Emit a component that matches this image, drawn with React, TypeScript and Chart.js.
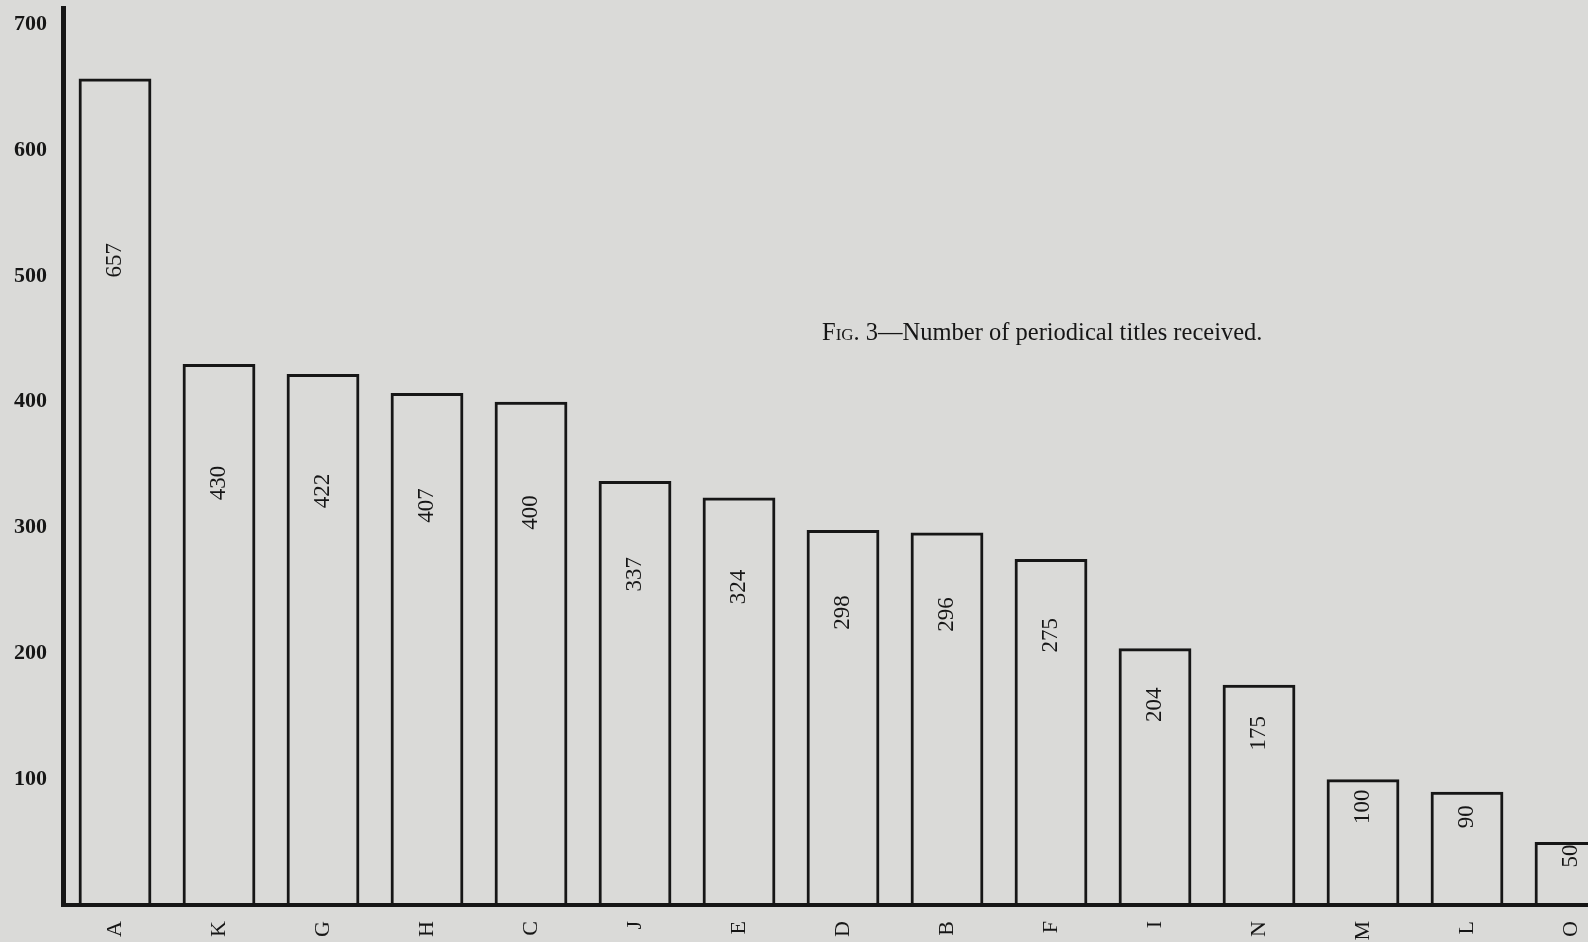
import React, { useEffect, useRef } from "react";
import { Chart, registerables } from "chart.js";

Chart.register(...registerables);

const libraries = ["A", "K", "G", "H", "C", "J", "E", "D", "B", "F", "I", "N", "M", "L", "O"];
const titles = [657, 430, 422, 407, 400, 337, 324, 298, 296, 275, 204, 175, 100, 90, 50];
const yTicks = [100, 200, 300, 400, 500, 600, 700];

const INK = "#161616";
const PAPER = "#dadad8";
const SERIF = '"Liberation Serif", "DejaVu Serif", serif';

// numbers written sideways inside each bar
const barValues = {
  id: "barValues",
  afterDatasetsDraw(chart: Chart) {
    const ctx = chart.ctx;
    const meta = chart.getDatasetMeta(0);
    const y = chart.scales.y;
    ctx.save();
    ctx.fillStyle = INK;
    ctx.font = `23px ${SERIF}`;
    ctx.textAlign = "center";
    ctx.textBaseline = "middle";
    meta.data.forEach((bar, i) => {
      const v = titles[i];
      ctx.save();
      ctx.translate(bar.x, y.getPixelForValue(v * 0.78));
      ctx.rotate(-Math.PI / 2);
      ctx.fillText(String(v), 0, 0);
      ctx.restore();
    });
    ctx.restore();
  },
};

function PeriodicalsChart(): JSX.Element {
  const chartRef = useRef<HTMLCanvasElement | null>(null);
  const chartInstance = useRef<Chart<"bar"> | null>(null);

  useEffect(() => {
    if (!chartRef.current) return;
    if (chartInstance.current) chartInstance.current.destroy();
    const ctx = chartRef.current.getContext("2d");
    if (!ctx) return;

    chartInstance.current = new Chart(ctx, {
      type: "bar",
      data: {
        labels: libraries,
        datasets: [
          {
            data: titles,
            backgroundColor: "rgba(0,0,0,0)",
            borderColor: INK,
            borderWidth: 3,
            borderSkipped: "bottom",
            barPercentage: 0.7,
            categoryPercentage: 1,
          },
        ],
      },
      options: {
        animation: false,
        responsive: false,
        maintainAspectRatio: false,
        layout: { padding: { top: 8, right: 8, left: 0, bottom: 0 } },
        plugins: {
          legend: { display: false },
          tooltip: { enabled: false },
        },
        scales: {
          x: {
            grid: { display: false },
            border: { display: true, width: 4, color: INK },
            ticks: {
              color: INK,
              font: { family: SERIF, size: 22 },
              minRotation: 90,
              maxRotation: 90,
              padding: 8,
            },
            afterFit: (scale: any) => {
              scale.height = 37;
            },
          },
          y: {
            min: 0,
            max: 713,
            grid: { display: false },
            border: { display: true, width: 5, color: INK },
            ticks: {
              color: INK,
              font: { family: SERIF, size: 22, weight: "bold" },
              padding: 8,
            },
            afterBuildTicks: (scale: any) => {
              scale.ticks = yTicks.map((value) => ({ value }));
            },
            afterFit: (scale: any) => {
              scale.width = 63;
              scale.paddingTop = 0;
              scale.paddingBottom = 0;
            },
          },
        },
      },
      plugins: [barValues],
    });

    return () => {
      if (chartInstance.current) {
        chartInstance.current.destroy();
        chartInstance.current = null;
      }
    };
  }, []);

  return (
    <div
      style={{
        position: "fixed",
        left: 0,
        top: 0,
        width: 1588,
        height: 942,
        overflow: "hidden",
        background: PAPER,
      }}
    >
      <canvas ref={chartRef} width={1631} height={942} style={{ display: "block" }}></canvas>
      <div
        style={{
          position: "absolute",
          left: 822,
          top: 318,
          fontFamily: SERIF,
          fontSize: 24.5,
          color: INK,
          whiteSpace: "nowrap",
        }}
      >
        <span style={{ fontVariant: "small-caps" }}>Fig.</span> 3—Number of periodical titles received.
      </div>
    </div>
  );
}

export default function App(): JSX.Element {
  return <PeriodicalsChart />;
}
